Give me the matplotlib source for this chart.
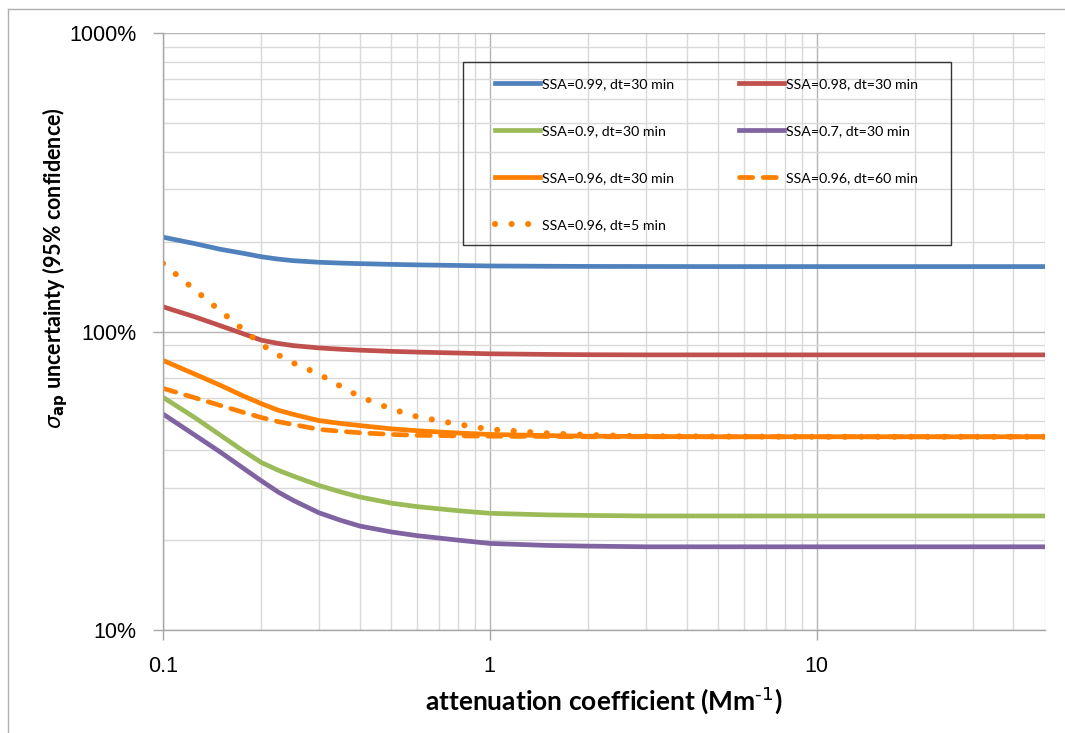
import numpy as np
import matplotlib.pyplot as plt
from matplotlib.ticker import FixedLocator, FixedFormatter, NullFormatter
from matplotlib.lines import Line2D

# attenuation coefficient (Mm-1)
x = [0.1, 0.125, 0.15, 0.175, 0.2, 0.225, 0.25, 0.3, 0.35, 0.4, 0.5, 0.6, 0.8,
     1, 1.5, 2, 3, 5, 10, 20, 50]

# uncertainty as fraction (1.0 = 100%)
ssa099_30 = [2.07, 1.97, 1.885, 1.83, 1.78, 1.748, 1.727, 1.706, 1.695, 1.688, 1.678,
             1.672, 1.664, 1.658, 1.654, 1.652, 1.651, 1.65, 1.65, 1.65, 1.65]
ssa098_30 = [1.21, 1.12, 1.045, 0.985, 0.935, 0.912, 0.897, 0.881, 0.872, 0.866, 0.858,
             0.853, 0.847, 0.842, 0.838, 0.836, 0.835, 0.835, 0.835, 0.835, 0.835]
ssa090_30 = [0.602, 0.515, 0.449, 0.400, 0.364, 0.343, 0.328, 0.305, 0.290, 0.279, 0.266,
             0.259, 0.251, 0.246, 0.243, 0.242, 0.241, 0.241, 0.241, 0.241, 0.241]
ssa070_30 = [0.529, 0.45, 0.394, 0.35, 0.316, 0.29, 0.272, 0.247, 0.233, 0.223, 0.213,
             0.207, 0.200, 0.195, 0.192, 0.191, 0.190, 0.190, 0.190, 0.190, 0.190]
ssa096_30 = [0.80, 0.72, 0.66, 0.61, 0.573, 0.545, 0.528, 0.503, 0.492, 0.484, 0.472,
             0.465, 0.457, 0.452, 0.448, 0.446, 0.445, 0.444, 0.444, 0.444, 0.444]
ssa096_60 = [0.645, 0.60, 0.565, 0.537, 0.515, 0.499, 0.488, 0.470, 0.463, 0.458, 0.452,
             0.449, 0.447, 0.446, 0.445, 0.444, 0.444, 0.444, 0.444, 0.444, 0.444]
ssa096_5 = [1.69, 1.38, 1.17, 1.02, 0.905, 0.835, 0.785, 0.72, 0.655, 0.605, 0.550,
            0.518, 0.489, 0.470, 0.456, 0.450, 0.446, 0.445, 0.444, 0.444, 0.444]

x_ticks = [0.1, 1, 10]
x_ticklabels = ["0.1", "1", "10"]
y_ticks = [0.1, 1, 10]
y_ticklabels = ["10%", "100%", "1000%"]

fig = plt.figure(figsize=(10.65, 7.33), dpi=100)
ax = fig.add_axes([163/1065, 1-630/733, 882/1065, 597/733])

lw = 3.4
l1, = ax.plot(x, ssa099_30, color='#4F81BD', lw=lw, label='SSA=0.99, dt=30 min')
l2, = ax.plot(x, ssa098_30, color='#C0504D', lw=lw, label='SSA=0.98, dt=30 min')
l3, = ax.plot(x, ssa090_30, color='#9BBB59', lw=lw, label='SSA=0.9, dt=30 min')
l4, = ax.plot(x, ssa070_30, color='#8064A2', lw=lw, label='SSA=0.7, dt=30 min')
l5, = ax.plot(x, ssa096_30, color='#FF8000', lw=lw, label='SSA=0.96, dt=30 min')
l6, = ax.plot(x, ssa096_60, color='#FF8000', lw=lw, ls=(0, (2.8, 2.2)),
              dash_capstyle='round', label='SSA=0.96, dt=60 min')
l7, = ax.plot(x, ssa096_5, color='#FF8000', lw=4.4, ls=(0, (0.01, 2.7)),
              label='SSA=0.96, dt=5 min')
l7.set_dash_capstyle('round')

ax.set_xscale('log')
ax.set_yscale('log')
ax.set_xlim(0.1, 50)
ax.set_ylim(0.1, 10)

ax.xaxis.set_major_locator(FixedLocator(x_ticks))
ax.xaxis.set_major_formatter(FixedFormatter(x_ticklabels))
ax.yaxis.set_major_locator(FixedLocator(y_ticks))
ax.yaxis.set_major_formatter(FixedFormatter(y_ticklabels))
ax.xaxis.set_minor_formatter(NullFormatter())
ax.yaxis.set_minor_formatter(NullFormatter())

ax.grid(which='major', color='#B4B4B4', lw=1.0)
ax.grid(which='minor', color='#D9D9D9', lw=1.0)
ax.set_axisbelow(True)

for s in ['top', 'right']:
    ax.spines[s].set_visible(False)
for s in ['left', 'bottom']:
    ax.spines[s].set_color('#A6A6A6')
    ax.spines[s].set_linewidth(1.0)

ax.tick_params(which='major', direction='out', length=7, width=1.0, color='#A6A6A6',
               labelsize=15.5, pad=12)
ax.tick_params(which='minor', length=0)
for t in ax.get_xticklabels() + ax.get_yticklabels():
    t.set_family('Liberation Sans')

ax.set_xlabel('attenuation coefficient (Mm$^{\\text{-1}}$)', fontsize=19,
              fontweight='bold', family='Lato', labelpad=5)
fig.text(55/1065, 1-268/733, '$\\sigma_{\\mathbf{ap}}$ uncertainty (95% confidence)',
         rotation=90, ha='center', va='center', fontsize=15.5, fontweight='bold', family='Lato')

# legend: column-first order gives Excel's row layout
handles = [l1, l3, l5, l7, l2, l4, l6]
ax.legend(handles=handles, labels=[h.get_label() for h in handles], ncol=2,
          loc='upper left', bbox_to_anchor=(0.3764, 0.0, 0.4796, 0.9245), mode='expand',
          frameon=False, prop={'family': 'Lato', 'size': 10.2},
          handlelength=3.2, handletextpad=0.15, labelspacing=2.47,
          borderpad=0, borderaxespad=0)
ax.add_patch(plt.Rectangle((0.3401, 0.6449), 0.5533, 0.3065, transform=ax.transAxes,
                           fill=False, edgecolor='#333333', lw=1.0, zorder=5))

# outer chart border (top and left only visible)
fig.add_artist(Line2D([8/1065, 1], [1-9/733, 1-9/733], color='#B0B0B0', lw=1.0))
fig.add_artist(Line2D([8/1065, 8/1065], [0, 1-9/733], color='#B0B0B0', lw=1.0))

fig.savefig('out.png', dpi=100)
